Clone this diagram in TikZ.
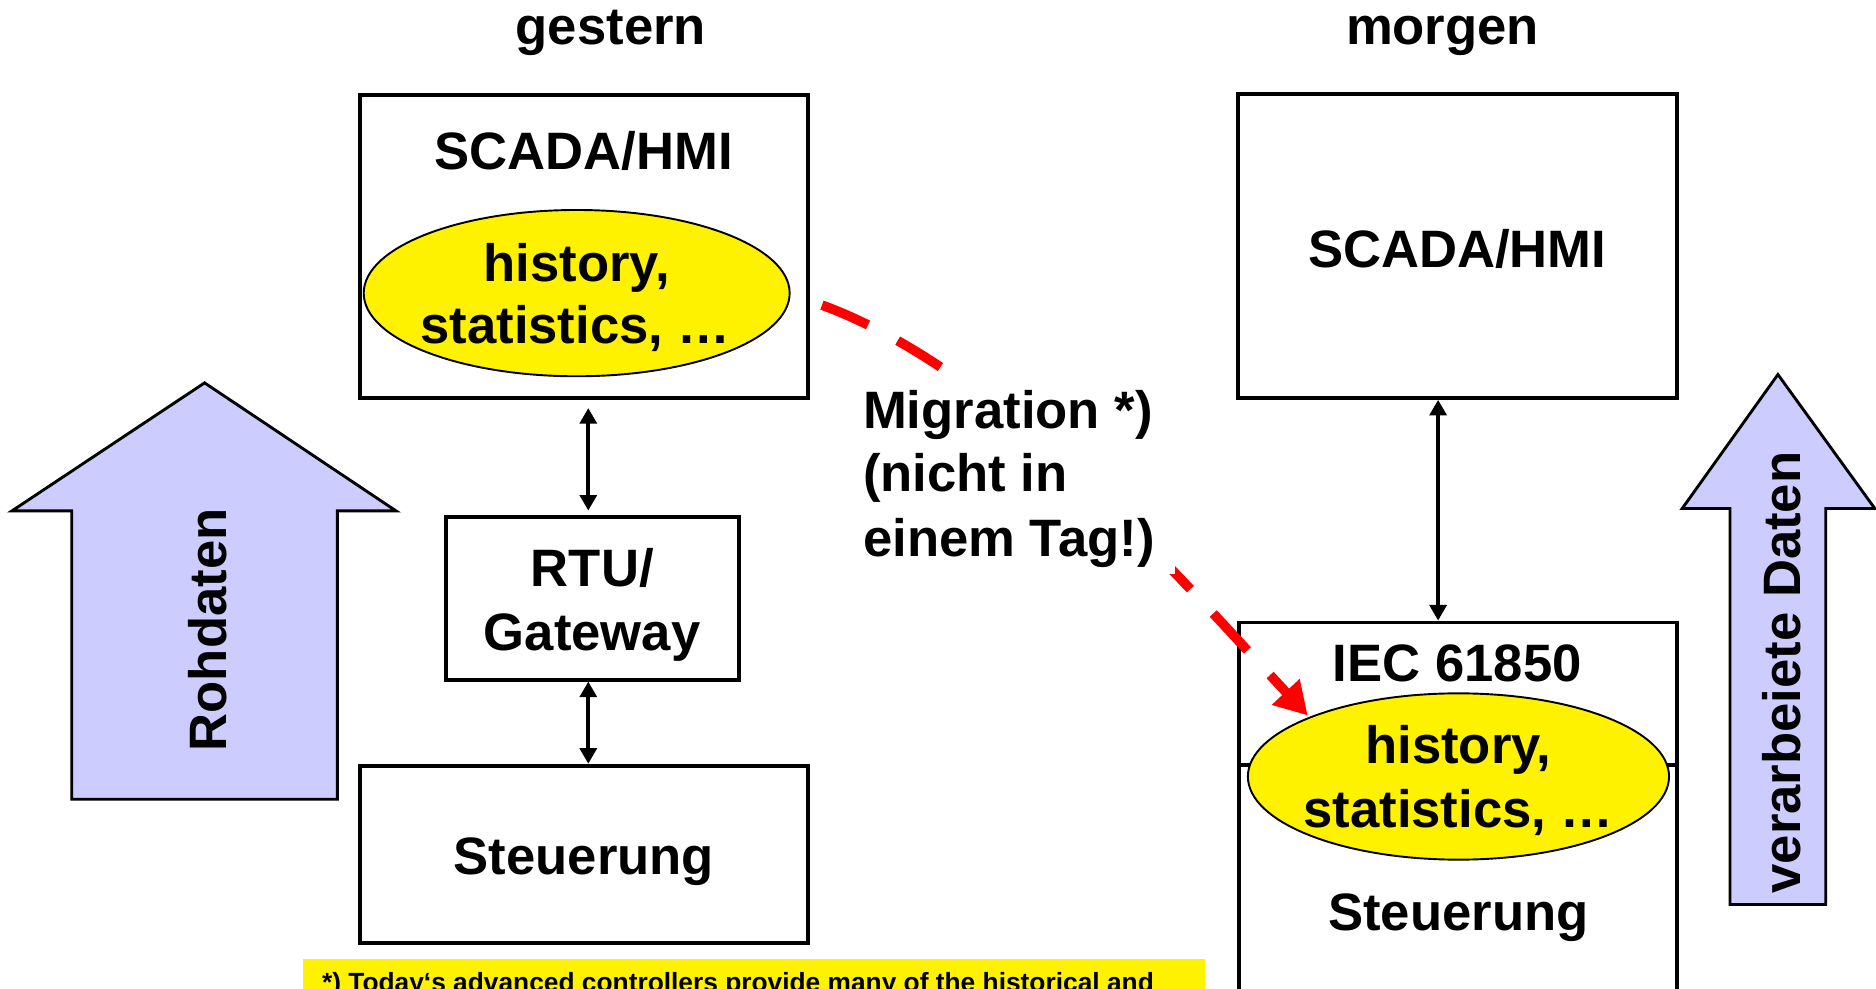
\documentclass[tikz,border=0pt]{standalone}
\usepackage{fontspec}
\setmainfont{Liberation Sans}
\usetikzlibrary{arrows.meta,shapes.geometric}
\definecolor{lilac}{RGB}{204,204,255}
\tikzset{
  box/.style={draw, line width=1.65pt, fill=white, inner sep=0pt},
  ell/.style={ellipse, draw, line width=0.8pt, fill=yellow, inner sep=0pt},
  lbl/.style={font=\fontsize{22}{26}\selectfont\bfseries, anchor=base, inner sep=0pt},
  conn/.style={line width=1.6pt, {Triangle[width=7pt,length=6.5pt]}-{Triangle[width=7pt,length=6.5pt]}},
  bigarrow/.style={draw, line width=1.2pt, fill=lilac, line join=miter},
  migr/.style={draw=red, line width=4pt, dash pattern=on 21pt off 14pt, -{Triangle[width=15pt,length=13.5pt]}},
}
\begin{document}
\begin{tikzpicture}[x=0.5pt,y=-0.5pt]
\useasboundingbox (0,0) rectangle (1568,826);
\clip (0,0) rectangle (1568,826);
\fill[white] (0,0) rectangle (1568,826);

% big arrows
\draw[bigarrow] (60,668) -- (60,427) -- (10,427) -- (171,320) -- (331,427) -- (282,427) -- (282,668) -- cycle;
\node[lbl, rotate=90] (roh) at (189,526.5) {Rohdaten};
\draw[bigarrow] (1446,756) -- (1446,425) -- (1406,425) -- (1486,313) -- (1567,425) -- (1526,425) -- (1526,756) -- cycle;
\node[lbl, rotate=90] (verarb) at (1505,562) {verarbeiete Daten};

% titles
\node[lbl] (gestern) at (510.6,37) {gestern};
\node[lbl] (morgen) at (1205.7,37) {morgen};

% left column
\node[box, minimum width=187pt, minimum height=127pt] (lscada) at (488,206) {};
\node[lbl] (lscadat) at (488,142) {SCADA/HMI};
\node[ell, minimum width=178pt, minimum height=69.5pt] (lell) at (482,245) {};
\node[lbl] (lell1) at (482,235) {history,};
\node[lbl] (lell2) at (481,287.5) {statistics, …};

\node[box, minimum width=122.5pt, minimum height=68pt] (rtu) at (495.5,500) {};
\node[lbl] (rtu1) at (495,490) {RTU/};
\node[lbl] (rtu2) at (495,544) {Gateway};

\node[box, minimum width=187pt, minimum height=74pt] (lsteu) at (488,714) {};
\node[lbl] (lsteut) at (488,731) {Steuerung};

\draw[conn, shorten <=3.2pt, shorten >=1.8pt] ([xshift=1.85pt]lscada.south) -- ([xshift=-1.9pt]rtu.north);
\draw[conn] ([xshift=-1.9pt]rtu.south) -- ([xshift=1.85pt]lsteu.north);

% right column
\node[box, minimum width=183.5pt, minimum height=127pt] (rscada) at (1218.5,205.5) {};
\node[lbl] (rscadat) at (1218,223.4) {SCADA/HMI};

\node[box, minimum width=183pt, minimum height=59.7pt] (iec) at (1218.5,580) {};
\node[box, minimum width=183pt, minimum height=130.3pt] (rsteu) at (1218.5,769.7) {};
\node[lbl] (iect) at (1218,569.8) {IEC 61850};
\node[ell, minimum width=176pt, minimum height=69.5pt] (rell) at (1219,649) {};
\node[lbl] (rell1) at (1219,638) {history,};
\node[lbl] (rell2) at (1219,691.8) {statistics, …};
\node[lbl] (rsteut) at (1219,777.4) {Steuerung};

\draw[conn] ([xshift=-8.25pt]rscada.south) -- ([xshift=-8.25pt]iec.north);

% migration
\coordinate (mstart) at (687,255);
\coordinate (mend) at (1093,598);
\draw[migr] (mstart) .. controls (837,310) and (983,480) .. (mend);
\node[fill=white, inner sep=0pt, minimum width=136.5pt, minimum height=84.5pt] (migbox) at (845.5,395.5) {};
\node[lbl, anchor=base west] (mig1) at (721,358) {Migration *)};
\node[lbl, anchor=base west] (mig2) at (721,411) {(nicht in};
\node[lbl, anchor=base west] (mig3) at (721,465) {einem Tag!)};

% footnote
\node[fill=yellow, inner sep=0pt, minimum width=377pt, minimum height=30pt, anchor=north west] (notebox) at (253,801) {};
\node[anchor=base west, inner sep=0pt, font=\fontsize{11}{13}\selectfont\bfseries] (fn) at (268.8,829) {*) Today‘s advanced controllers provide many of the historical and};
\end{tikzpicture}
\end{document}
